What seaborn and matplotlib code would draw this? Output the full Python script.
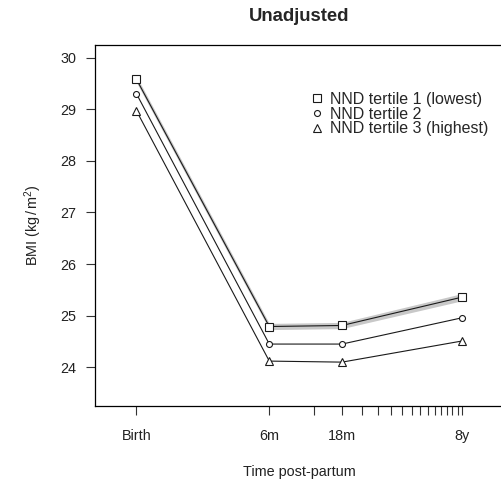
import numpy as np
import pandas as pd
import matplotlib
matplotlib.use("Agg")
import matplotlib.pyplot as plt
from matplotlib.lines import Line2D
import seaborn as sns

# ---- data ----
months = [0, 6, 18, 96]
tick_labels = ["Birth", "6m", "18m", "8y"]
minor_months = [12, 24, 30, 36, 42, 48, 54, 60, 66, 72, 78, 84, 90]
groups = ["NND tertile 1 (lowest)", "NND tertile 2", "NND tertile 3 (highest)"]
bmi_t1 = [29.58, 24.79, 24.81, 25.36]
bmi_t2 = [29.30, 24.45, 24.45, 24.96]
bmi_t3 = [28.97, 24.12, 24.10, 24.51]
t1_lo = [29.52, 24.73, 24.75, 25.29]
t1_hi = [29.64, 24.85, 24.87, 25.43]

df = pd.DataFrame({
    "months": months * 3,
    "bmi": bmi_t1 + bmi_t2 + bmi_t3,
    "group": [g for g in groups for _ in months],
})

sns.set_style("white")
plt.rcParams["font.family"] = ["Liberation Sans", "DejaVu Sans"]
plt.rcParams["mathtext.fontset"] = "custom"
plt.rcParams["mathtext.rm"] = "Liberation Sans"
plt.rcParams["mathtext.it"] = "Liberation Sans"

fig = plt.figure(figsize=(5.02, 4.86), dpi=100)
ax = fig.add_axes([95 / 502, 1 - 406 / 486, (503 - 95) / 502, (406 - 44.7) / 486])

ax.set_xscale("function", functions=(lambda m: np.log(m + 1.2),
                                     lambda v: np.exp(v) - 1.2))

ink = "#1a1a1a"
ax.fill_between(months, t1_lo, t1_hi, color="#c8c8c8", lw=0, zorder=1)

markers = {groups[0]: ("s", 5.2), groups[1]: ("o", 4.3), groups[2]: ("^", 6.0)}
for g in groups:
    m, ms = markers[g]
    sns.lineplot(data=df[df["group"] == g], x="months", y="bmi", ax=ax,
                 color=ink, lw=0.8, marker=m, markersize=ms,
                 markerfacecolor="white", markeredgecolor=ink,
                 markeredgewidth=0.8, errorbar=None, legend=False, zorder=3)

ax.set_xlim(-0.514, 167.2)
ax.set_ylim(23.25, 30.25)

ax.set_xticks(months)
ax.set_xticklabels(tick_labels)
ax.set_xticks(minor_months, minor=True)
ax.set_yticks([24, 25, 26, 27, 28, 29, 30])

for sp in ax.spines.values():
    sp.set_color("black")
    sp.set_linewidth(0.9)

ax.tick_params(axis="both", which="both", direction="out", length=6.5,
               width=0.8, color="#333333", labelsize=10.4, labelcolor="#222222")
ax.tick_params(axis="x", which="both", pad=10, bottom=True)
ax.tick_params(axis="y", pad=7, left=True)

ax.set_xlabel("Time post-partum", fontsize=10.4, color="#222222", labelpad=16)
ax.set_ylabel(r"BMI (kg$\,/\,$m$^2$)", fontsize=10.4, color="#222222", labelpad=12)
ax.set_title("Unadjusted", fontsize=13.3, fontweight="bold", pad=17)

handles = [Line2D([], [], ls="none", marker=markers[g][0], markersize=markers[g][1],
                  markerfacecolor="white", markeredgecolor=ink, markeredgewidth=0.8)
           for g in groups]
leg = ax.legend(handles, groups, loc="upper left",
                bbox_to_anchor=(311 / 502, 1 - 92 / 486),
                bbox_transform=fig.transFigure, frameon=False, fontsize=11.5,
                handlelength=0.8, handletextpad=0.4, labelspacing=-0.02,
                borderpad=0, borderaxespad=0)

fig.savefig("out.png", dpi=100)
